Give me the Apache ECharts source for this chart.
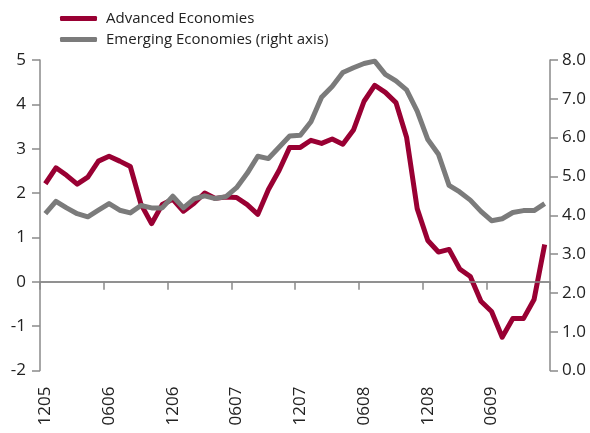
<!DOCTYPE html>
<html>
<head>
<meta charset="utf-8">
<script src="https://cdn.jsdelivr.net/npm/echarts@6/dist/echarts.min.js"></script>
<style>
  html, body { margin: 0; padding: 0; background: #fff; }
  #chart { width: 590px; height: 433px; }
</style>
</head>
<body>
<div id="chart"></div>
<script>
// monthly categories, MMYY, Dec 2005 .. Nov 2009
const months = []
for (let y = 5; y <= 9; y++) {
  for (let m = 1; m <= 12; m++) {
    if (y === 5 && m < 12) continue
    if (y === 9 && m === 12) continue
    months.push(String(m).padStart(2, '0') + String(y).padStart(2, '0'))
  }
}

// left axis
const advanced = [
  2.21, 2.57, 2.40, 2.20, 2.36, 2.72, 2.83, 2.72, 2.60, 1.75,
  1.31, 1.74, 1.86, 1.59, 1.77, 2.00, 1.88, 1.91, 1.90, 1.74,
  1.52, 2.08, 2.51, 3.03, 3.03, 3.19, 3.12, 3.22, 3.10, 3.42,
  4.07, 4.43, 4.27, 4.04, 3.26, 1.65, 0.93, 0.67, 0.73, 0.29,
  0.12, -0.44, -0.67, -1.25, -0.83, -0.83, -0.40, 0.84
]

// right axis
const emerging = [
  4.04, 4.36, 4.19, 4.04, 3.96, 4.13, 4.30, 4.13, 4.06, 4.25,
  4.19, 4.19, 4.49, 4.19, 4.42, 4.50, 4.43, 4.48, 4.71, 5.08,
  5.52, 5.46, 5.75, 6.04, 6.06, 6.41, 7.04, 7.32, 7.68, 7.80,
  7.91, 7.97, 7.63, 7.46, 7.23, 6.68, 5.95, 5.57, 4.77, 4.60,
  4.39, 4.10, 3.86, 3.91, 4.07, 4.12, 4.12, 4.30
]

const RED = '#990033'
const GREY = '#7b7b7b'
const AXIS = '#8a8a8a'
const FONT = 'Open Sans'

const chart = echarts.init(document.getElementById('chart'))

chart.setOption({
  animation: false,
  textStyle: { fontFamily: FONT },
  legend: {
    orient: 'vertical',
    left: 55,
    top: 5,
    itemWidth: 37,
    itemHeight: 5,
    itemGap: 4,
    icon: 'roundRect',
    textStyle: { fontSize: 15, color: '#222', lineHeight: 17, padding: [0, 0, 0, 4], fontFamily: FONT },
    data: ['Advanced Economies', 'Emerging Economies (right axis)']
  },
  grid: { left: 40, right: 40, top: 60, bottom: 62.5 },
  xAxis: {
    type: 'category',
    data: months,
    boundaryGap: true,
    axisLine: { show: true, onZero: true, onZeroAxisIndex: 0, lineStyle: { color: AXIS, width: 1.5 } },
    axisTick: { show: true, interval: 5, length: 8, lineStyle: { color: AXIS, width: 1.5 } },
    axisLabel: {
      interval: 5,
      rotate: 90,
      margin: 16,
      fontSize: 17,
      color: '#222',
      fontFamily: FONT
    }
  },
  yAxis: [
    {
      type: 'value',
      min: -2,
      max: 5,
      interval: 1,
      splitLine: { show: false },
      axisLine: { show: true, lineStyle: { color: AXIS, width: 1.5 } },
      axisTick: { show: true, length: 8, lineStyle: { color: AXIS, width: 1.5 } },
      axisLabel: { fontSize: 17, color: '#222', margin: 14, fontFamily: FONT }
    },
    {
      type: 'value',
      min: 0,
      max: 8,
      interval: 1,
      position: 'right',
      splitLine: { show: false },
      axisLine: { show: true, lineStyle: { color: AXIS, width: 1.5 } },
      axisTick: { show: true, length: 8, lineStyle: { color: AXIS, width: 1.5 } },
      axisLabel: {
        fontSize: 17,
        color: '#222',
        margin: 12,
        fontFamily: FONT,
        formatter: (v) => v.toFixed(1)
      }
    }
  ],
  series: [
    {
      name: 'Advanced Economies',
      type: 'line',
      yAxisIndex: 0,
      data: advanced,
      symbol: 'none',
      color: RED,
      lineStyle: { width: 5, color: RED, join: 'round' },
      // zero line of the left axis
      markLine: {
        silent: true,
        symbol: 'none',
        label: { show: false },
        lineStyle: { color: AXIS, width: 1.5, type: 'solid' },
        data: [{ yAxis: 0 }]
      }
    },
    {
      name: 'Emerging Economies (right axis)',
      type: 'line',
      yAxisIndex: 1,
      data: emerging,
      symbol: 'none',
      color: GREY,
      lineStyle: { width: 5, color: GREY, join: 'round' }
    }
  ]
})
</script>
</body>
</html>
